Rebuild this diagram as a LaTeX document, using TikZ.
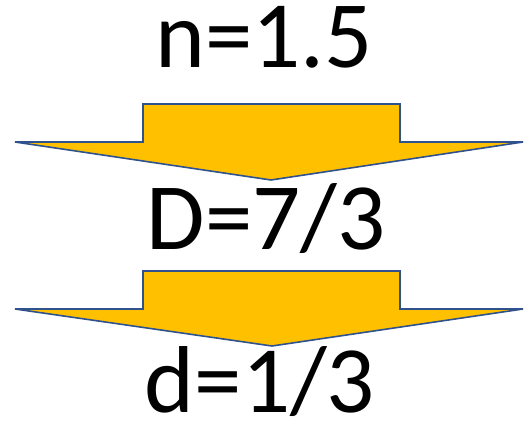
\documentclass[tikz,border=0pt]{standalone}
\usepackage{fontspec}
\setmainfont{Carlito}
\definecolor{arrowfill}{HTML}{FFC000}
\definecolor{arrowline}{HTML}{2F528F}
\begin{document}
\begin{tikzpicture}[x=1pt,y=-1pt,
  lbl/.style={anchor=base,inner sep=0pt,font=\fontsize{95}{105}\selectfont},
  bigarrow/.style={fill=arrowfill,draw=arrowline,line width=1.6pt,line join=miter}]
\useasboundingbox (0,0) rectangle (528,430);
\draw[bigarrow] (143,104) -- (400,104) -- (400,142) -- (523,142) -- (271,180) -- (15,142) -- (143,142) -- cycle;
\draw[bigarrow] (143,271) -- (400,271) -- (400,309) -- (523,309) -- (272,346) -- (15,309) -- (143,309) -- cycle;
\node[lbl] (n) at (264,68) {n=1.5};
\node[lbl] (D) at (266,250) {D=7/3};
\node[lbl] (d) at (260,413) {d=1/3};
\end{tikzpicture}
\end{document}
